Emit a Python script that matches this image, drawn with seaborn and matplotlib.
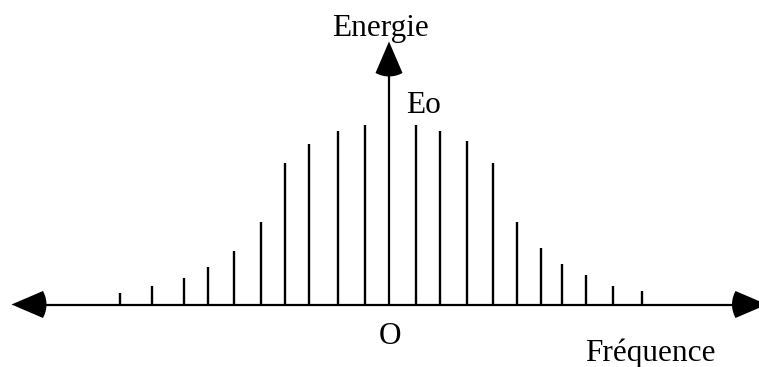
import numpy as np
import matplotlib
matplotlib.use("Agg")
import matplotlib.pyplot as plt
import seaborn as sns

# Spectral lines: frequency offset from the carrier O, and line energy
freqs = [-269, -237, -205, -181, -155, -128, -104, -80, -51, -24,
         27, 51, 78, 104, 128, 152, 173, 197, 224, 253]
energies = [12, 19, 27, 38, 54, 83, 142, 161, 174, 180,
            180, 174, 164, 142, 83, 57, 41, 30, 19, 14]

label_y = "Energie"
label_x = "Fréquence"
label_peak = "Eo"
label_origin = "O"

sns.set_theme(style="white")
plt.rcParams["font.family"] = ["Liberation Serif", "DejaVu Serif"]

fig = plt.figure(figsize=(7.59, 3.67), dpi=100)
ax = fig.add_axes([0, 0, 1, 1])
ax.set_xlim(-389, 370)
ax.set_ylim(-62, 305)
ax.axis("off")

ink = "black"

# spectral lines
ax.vlines(freqs, 0, energies, color=ink, linewidth=1.7)

# frequency axis (double-headed) and energy axis
ax.plot([-346, 347], [0.5, 0.5], color=ink, linewidth=1.6, solid_capstyle="butt")
ax.plot([0, 0], [0, 233], color=ink, linewidth=1.6, solid_capstyle="butt")


def arrow_head(tip, direction, length=31.5, half=13.5, bulge=3.5):
    """Filled arrowhead with a slightly rounded back, pointing along direction."""
    d = np.asarray(direction, float)
    d /= np.linalg.norm(d)
    n = np.array([-d[1], d[0]])
    tip = np.asarray(tip, float)
    base = tip - d * length
    t = np.linspace(-1, 1, 15)
    back = base[None, :] + np.outer(t * half, n) - np.outer(bulge * (1 - t ** 2), d)
    pts = np.vstack([tip, back])
    ax.fill(pts[:, 0], pts[:, 1], color=ink, linewidth=0)


arrow_head((-377.5, 0.5), (-1, 0))
arrow_head((378, 0.5), (1, 0))
arrow_head((0, 263.5), (0, 1))

fs = 22.5
ax.text(-9, 269, label_y, ha="center", va="baseline", fontsize=fs, color=ink)
ax.text(17.5, 192, label_peak, ha="left", va="baseline", fontsize=fs, color=ink)
ax.text(1, -38.5, label_origin, ha="center", va="baseline", fontsize=fs, color=ink)
ax.text(196, -56.5, label_x, ha="left", va="baseline", fontsize=fs, color=ink)

fig.savefig("out.png", dpi=100, facecolor="white")
